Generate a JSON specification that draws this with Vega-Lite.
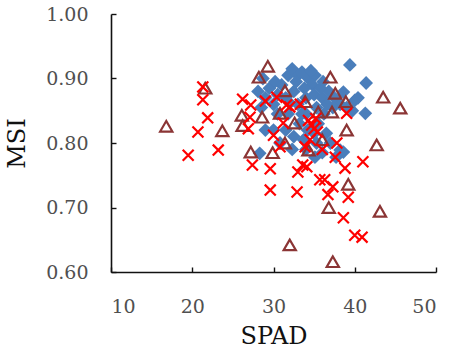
{
  "$schema": "https://vega.github.io/schema/vega-lite/v6.json",
  "autosize": {"type": "none"},
  "width": 325,
  "height": 258,
  "padding": {"left": 111, "top": 14, "right": 24, "bottom": 78},
  "background": "white",
  "config": {
    "view": {"stroke": null},
    "axis": {
      "grid": false,
      "domainColor": "#111111",
      "domainWidth": 1.6,
      "tickColor": "#111111",
      "tickWidth": 1.4,
      "tickSize": -5,
      "labelFont": "DejaVu Serif",
      "labelFontSize": 19,
      "labelColor": "#505050",
      "titleFont": "DejaVu Serif",
      "titleFontSize": 24,
      "titleFontWeight": "normal",
      "titleColor": "#111111"
    }
  },
  "data": {
    "values": [
      {"s": "A", "x": 28.1, "y": 0.880}, {"s": "A", "x": 28.7, "y": 0.900}, {"s": "A", "x": 29.5, "y": 0.885},
      {"s": "A", "x": 30.5, "y": 0.875}, {"s": "A", "x": 31.0, "y": 0.890}, {"s": "A", "x": 31.8, "y": 0.905},
      {"s": "A", "x": 32.3, "y": 0.915}, {"s": "A", "x": 33.0, "y": 0.905}, {"s": "A", "x": 33.5, "y": 0.910},
      {"s": "A", "x": 34.3, "y": 0.900}, {"s": "A", "x": 35.1, "y": 0.905}, {"s": "A", "x": 36.1, "y": 0.895},
      {"s": "A", "x": 34.8, "y": 0.890}, {"s": "A", "x": 33.8, "y": 0.885}, {"s": "A", "x": 32.5, "y": 0.880},
      {"s": "A", "x": 31.5, "y": 0.870}, {"s": "A", "x": 30.0, "y": 0.860}, {"s": "A", "x": 29.0, "y": 0.870},
      {"s": "A", "x": 28.5, "y": 0.855}, {"s": "A", "x": 30.5, "y": 0.845}, {"s": "A", "x": 31.8, "y": 0.845},
      {"s": "A", "x": 33.0, "y": 0.860}, {"s": "A", "x": 34.0, "y": 0.870}, {"s": "A", "x": 35.0, "y": 0.875},
      {"s": "A", "x": 36.0, "y": 0.870}, {"s": "A", "x": 36.8, "y": 0.880}, {"s": "A", "x": 37.5, "y": 0.870},
      {"s": "A", "x": 38.2, "y": 0.860}, {"s": "A", "x": 38.6, "y": 0.879}, {"s": "A", "x": 39.0, "y": 0.855},
      {"s": "A", "x": 40.0, "y": 0.866}, {"s": "A", "x": 40.4, "y": 0.870}, {"s": "A", "x": 41.4, "y": 0.893},
      {"s": "A", "x": 41.3, "y": 0.846}, {"s": "A", "x": 39.4, "y": 0.921}, {"s": "A", "x": 39.7, "y": 0.850},
      {"s": "A", "x": 37.3, "y": 0.855}, {"s": "A", "x": 36.2, "y": 0.845}, {"s": "A", "x": 35.3, "y": 0.855},
      {"s": "A", "x": 34.0, "y": 0.845}, {"s": "A", "x": 33.2, "y": 0.830}, {"s": "A", "x": 34.2, "y": 0.820},
      {"s": "A", "x": 35.5, "y": 0.830}, {"s": "A", "x": 36.5, "y": 0.815}, {"s": "A", "x": 37.0, "y": 0.800},
      {"s": "A", "x": 35.3, "y": 0.800}, {"s": "A", "x": 33.7, "y": 0.805}, {"s": "A", "x": 32.5, "y": 0.810},
      {"s": "A", "x": 31.5, "y": 0.820}, {"s": "A", "x": 30.0, "y": 0.820}, {"s": "A", "x": 29.0, "y": 0.820},
      {"s": "A", "x": 28.3, "y": 0.784}, {"s": "A", "x": 38.2, "y": 0.789}, {"s": "A", "x": 38.6, "y": 0.786},
      {"s": "A", "x": 35.1, "y": 0.778}, {"s": "A", "x": 36.0, "y": 0.785}, {"s": "A", "x": 34.0, "y": 0.790},
      {"s": "A", "x": 32.3, "y": 0.790}, {"s": "A", "x": 30.8, "y": 0.800}, {"s": "A", "x": 37.7, "y": 0.778},
      {"s": "A", "x": 32.8, "y": 0.895}, {"s": "A", "x": 34.6, "y": 0.912}, {"s": "A", "x": 35.8, "y": 0.885},
      {"s": "A", "x": 30.2, "y": 0.895}, {"s": "A", "x": 32.0, "y": 0.862}, {"s": "A", "x": 36.6, "y": 0.860},
      {"s": "A", "x": 35.0, "y": 0.815}, {"s": "A", "x": 33.5, "y": 0.845},

      {"s": "B", "x": 16.8, "y": 0.826}, {"s": "B", "x": 21.6, "y": 0.885}, {"s": "B", "x": 23.7, "y": 0.819},
      {"s": "B", "x": 26.1, "y": 0.843}, {"s": "B", "x": 26.2, "y": 0.827}, {"s": "B", "x": 27.2, "y": 0.786},
      {"s": "B", "x": 28.2, "y": 0.902}, {"s": "B", "x": 28.6, "y": 0.840}, {"s": "B", "x": 29.3, "y": 0.919},
      {"s": "B", "x": 29.9, "y": 0.785}, {"s": "B", "x": 30.8, "y": 0.846}, {"s": "B", "x": 31.4, "y": 0.881},
      {"s": "B", "x": 31.4, "y": 0.800}, {"s": "B", "x": 32.6, "y": 0.831}, {"s": "B", "x": 32.0, "y": 0.642},
      {"s": "B", "x": 33.9, "y": 0.864}, {"s": "B", "x": 34.3, "y": 0.789}, {"s": "B", "x": 35.5, "y": 0.848},
      {"s": "B", "x": 36.0, "y": 0.805}, {"s": "B", "x": 37.0, "y": 0.902}, {"s": "B", "x": 37.2, "y": 0.848},
      {"s": "B", "x": 37.6, "y": 0.877}, {"s": "B", "x": 36.8, "y": 0.700}, {"s": "B", "x": 37.3, "y": 0.616},
      {"s": "B", "x": 38.9, "y": 0.864}, {"s": "B", "x": 39.0, "y": 0.820}, {"s": "B", "x": 39.2, "y": 0.736},
      {"s": "B", "x": 42.7, "y": 0.797}, {"s": "B", "x": 43.1, "y": 0.694}, {"s": "B", "x": 43.5, "y": 0.871},
      {"s": "B", "x": 45.6, "y": 0.854},

      {"s": "C", "x": 19.5, "y": 0.781}, {"s": "C", "x": 20.7, "y": 0.817}, {"s": "C", "x": 21.3, "y": 0.887},
      {"s": "C", "x": 21.3, "y": 0.867}, {"s": "C", "x": 21.9, "y": 0.839}, {"s": "C", "x": 23.2, "y": 0.789},
      {"s": "C", "x": 26.2, "y": 0.868}, {"s": "C", "x": 27.2, "y": 0.859}, {"s": "C", "x": 27.1, "y": 0.840},
      {"s": "C", "x": 26.9, "y": 0.822}, {"s": "C", "x": 27.4, "y": 0.766}, {"s": "C", "x": 29.6, "y": 0.760},
      {"s": "C", "x": 29.6, "y": 0.727}, {"s": "C", "x": 30.4, "y": 0.871}, {"s": "C", "x": 30.0, "y": 0.812},
      {"s": "C", "x": 30.8, "y": 0.794}, {"s": "C", "x": 31.6, "y": 0.859}, {"s": "C", "x": 31.2, "y": 0.831},
      {"s": "C", "x": 32.0, "y": 0.856}, {"s": "C", "x": 32.9, "y": 0.724}, {"s": "C", "x": 33.0, "y": 0.755},
      {"s": "C", "x": 33.6, "y": 0.766}, {"s": "C", "x": 33.9, "y": 0.794}, {"s": "C", "x": 34.7, "y": 0.828},
      {"s": "C", "x": 35.4, "y": 0.817}, {"s": "C", "x": 34.5, "y": 0.805}, {"s": "C", "x": 35.0, "y": 0.822},
      {"s": "C", "x": 35.7, "y": 0.743}, {"s": "C", "x": 36.3, "y": 0.743}, {"s": "C", "x": 36.7, "y": 0.720},
      {"s": "C", "x": 37.3, "y": 0.732}, {"s": "C", "x": 37.6, "y": 0.778}, {"s": "C", "x": 37.8, "y": 0.800},
      {"s": "C", "x": 38.8, "y": 0.761}, {"s": "C", "x": 39.0, "y": 0.846}, {"s": "C", "x": 39.2, "y": 0.716},
      {"s": "C", "x": 38.6, "y": 0.684}, {"s": "C", "x": 40.0, "y": 0.657}, {"s": "C", "x": 40.9, "y": 0.654},
      {"s": "C", "x": 41.0, "y": 0.771}, {"s": "C", "x": 34.1, "y": 0.763}, {"s": "C", "x": 29.0, "y": 0.865},
      {"s": "C", "x": 36.0, "y": 0.790}, {"s": "C", "x": 34.3, "y": 0.835}, {"s": "C", "x": 35.2, "y": 0.838},
      {"s": "C", "x": 33.3, "y": 0.860}
    ]
  },
  "encoding": {
    "x": {
      "field": "x", "type": "quantitative",
      "scale": {"domain": [10, 50], "nice": false, "zero": false},
      "axis": {"values": [10, 20, 30, 40, 50], "title": "SPAD", "labelPadding": 30, "titlePadding": 8}
    },
    "y": {
      "field": "y", "type": "quantitative",
      "scale": {"domain": [0.6, 1.0], "nice": false, "zero": false},
      "axis": {"values": [0.6, 0.7, 0.8, 0.9, 1.0], "format": ".2f", "title": "MSI", "labelPadding": 28, "titleX": -94, "titleY": 129, "titleBaseline": "middle", "titleAlign": "center", "titleAngle": -90}
    }
  },
  "layer": [
    {
      "transform": [{"filter": "datum.s === 'A'"}],
      "mark": {"type": "point", "shape": "diamond", "filled": true, "color": "#4A7EBB", "opacity": 1, "size": 190}
    },
    {
      "transform": [{"filter": "datum.s === 'B'"}],
      "mark": {"type": "point", "shape": "triangle-up", "filled": false, "color": "#8B3535", "opacity": 1, "strokeWidth": 2.2, "size": 150}
    },
    {
      "transform": [{"filter": "datum.s === 'C'"}],
      "mark": {"type": "point", "shape": "M-1,-1L1,1M-1,1L1,-1", "filled": false, "color": "#FF0000", "opacity": 1, "strokeWidth": 2.2, "size": 120}
    }
  ]
}
